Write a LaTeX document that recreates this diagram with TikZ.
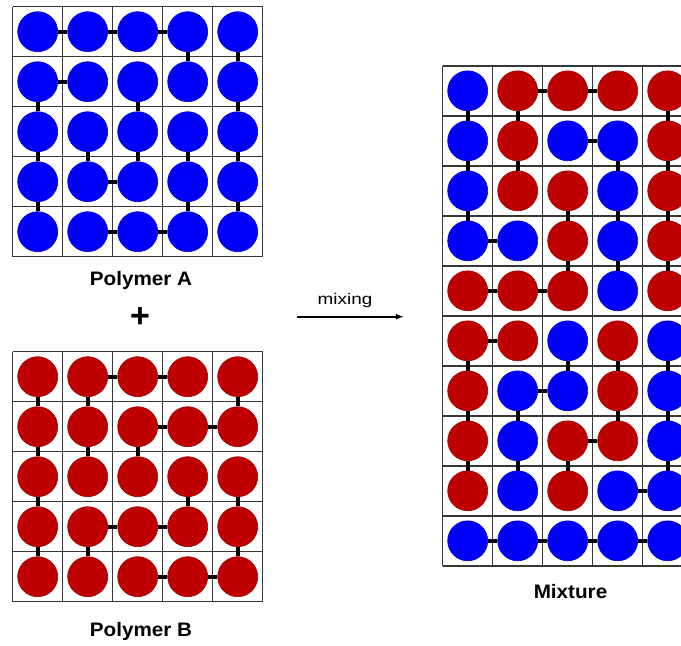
\documentclass[tikz,border=0pt]{standalone}
\usepackage{fontspec}
\setmainfont{Liberation Sans}
\newfontfamily\lblfont[FakeStretch=1.06]{Liberation Sans}
\newfontfamily\mixfont[FakeStretch=1.22]{Liberation Sans}
\usetikzlibrary{arrows.meta}
\definecolor{pblue}{RGB}{0,0,250}
\definecolor{pred}{RGB}{190,0,0}
\colorlet{B}{pblue}
\colorlet{R}{pred}
\definecolor{gridc}{RGB}{55,55,55}
\begin{document}
\begin{tikzpicture}[x=1pt,y=-1pt,
  bead/.style={circle,minimum size=40pt,inner sep=0pt,draw=#1!85!black,line width=0.6pt,fill=#1},
  bond/.style={line width=4pt,black},
  gridline/.style={line width=1.4pt,draw=gridc},
  lbl/.style={font=\lblfont\bfseries\fontsize{19.5}{23}\selectfont,anchor=base,inner sep=0pt},
  mixlbl/.style={font=\mixfont\fontsize{15.5}{18}\selectfont,anchor=base,inner sep=0pt},
  plussign/.style={font=\bfseries\fontsize{34}{34}\selectfont,inner sep=0pt}]
\useasboundingbox (0,0) rectangle (681,646);

% ---------- grids ----------
\begin{scope}[shift={(12.7,6.7)}]
  \draw[gridline,step=50pt] (0,0) grid (250,250);
\end{scope}
\begin{scope}[shift={(12.7,351.7)}]
  \draw[gridline,step=50pt] (0,0) grid (250,250);
\end{scope}
\begin{scope}[shift={(442.7,65.8)}]
  \draw[gridline,step=50pt] (0,0) grid (250,500);
\end{scope}

% ---------- Polymer A ----------
\foreach \r in {0,...,4}
  \foreach \c in {0,...,4}
    \node[bead=B] (A-\r-\c) at ({12.7+25+50*\c},{6.7+25+50*\r}) {};
\foreach \a/\b in {0-0/0-1,0-1/0-2,0-2/0-3,1-0/1-1,3-1/3-2,4-1/4-2,4-2/4-3,
  0-3/1-3,0-4/1-4,1-0/2-0,1-2/2-2,1-4/2-4,2-0/3-0,2-1/3-1,2-2/3-2,2-3/3-3,
  2-4/3-4,3-0/4-0,3-3/4-3,3-4/4-4}
  \draw[bond] (A-\a) -- (A-\b);

% ---------- Polymer B ----------
\foreach \r in {0,...,4}
  \foreach \c in {0,...,4}
    \node[bead=R] (B-\r-\c) at ({12.7+25+50*\c},{351.7+25+50*\r}) {};
\foreach \a/\b in {0-1/0-2,0-2/0-3,1-2/1-3,1-3/1-4,3-1/3-2,3-2/3-3,4-2/4-3,4-3/4-4,
  0-0/1-0,0-1/1-1,0-4/1-4,1-0/2-0,1-1/2-1,1-2/2-2,2-0/3-0,2-3/3-3,2-4/3-4,
  3-0/4-0,3-1/4-1,3-4/4-4}
  \draw[bond] (B-\a) -- (B-\b);

% ---------- Mixture ----------
\foreach \r/\row in {0/{B,R,R,R,R},1/{B,R,B,B,R},2/{B,R,R,B,R},3/{B,B,R,B,R},
  4/{R,R,R,B,R},5/{R,R,B,R,B},6/{R,B,B,R,B},7/{R,B,R,R,B},8/{R,B,R,B,B},9/{B,B,B,B,B}}
  \foreach \col [count=\ci from 0] in \row
    \node[bead=\col] (M-\r-\ci) at ({442.7+25+50*\ci},{65.8+25+50*\r}) {};
\foreach \a/\b in {0-1/0-2,0-2/0-3,1-2/1-3,3-0/3-1,4-0/4-1,4-1/4-2,5-0/5-1,6-1/6-2,
  7-2/7-3,8-3/8-4,9-0/9-1,9-1/9-2,9-2/9-3,9-3/9-4,
  0-0/1-0,0-1/1-1,0-4/1-4,1-0/2-0,1-1/2-1,1-3/2-3,1-4/2-4,2-0/3-0,2-2/3-2,
  2-3/3-3,2-4/3-4,3-2/4-2,3-3/4-3,3-4/4-4,5-0/6-0,5-2/6-2,5-3/6-3,5-4/6-4,
  6-0/7-0,6-1/7-1,6-3/7-3,6-4/7-4,7-0/8-0,7-1/8-1,7-2/8-2,7-4/8-4}
  \draw[bond] (M-\a) -- (M-\b);

% ---------- labels ----------
\node[lbl] (la) at (141,285.7) {Polymer A};
\node[plussign] (plus) at (140,318) {+};
\node[lbl] (lb) at (141,636) {Polymer B};
\node[lbl] (lm) at (570.5,598.5) {Mixture};
\node[mixlbl] (mx) at (345,304.5) {mixing};
\coordinate (arrS) at (297,316.7);
\coordinate (arrE) at (404,316.7);
\draw[line width=1.6pt,-{Latex[length=8pt,width=6pt]}] (arrS) -- (arrE);
\end{tikzpicture}
\end{document}
